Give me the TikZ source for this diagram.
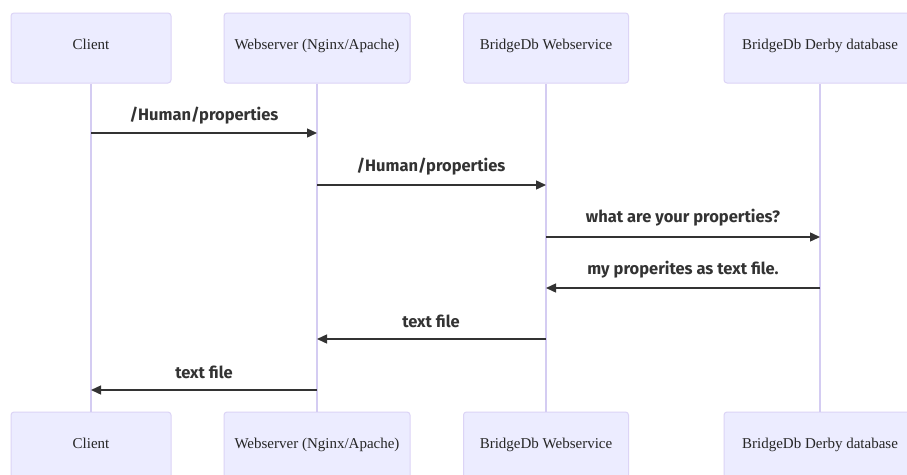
\documentclass[tikz,border=0pt]{standalone}
\usepackage{fontspec}
\setmainfont{Liberation Serif}
\newfontfamily\lblfont{Fira Sans}
\usetikzlibrary{arrows.meta}
\definecolor{boxfill}{HTML}{ECECFF}
\definecolor{boxline}{HTML}{DCD4F6}
\definecolor{lifeline}{HTML}{D4CCF2}
\definecolor{msgcol}{HTML}{333333}
\tikzset{
  actor/.style={draw=boxline, line width=1pt, fill=boxfill, rounded corners=3pt,
    minimum height=70pt, inner sep=0pt, font=\fontsize{15}{17}\selectfont, text=black!85},
  life/.style={draw=lifeline, line width=1.2pt},
  msg/.style={draw=msgcol, line width=1.4pt, -{Triangle[length=10pt,width=9pt]}},
  lbl/.style={font=\lblfont\bfseries\fontsize{16.5}{18}\selectfont, text=msgcol, inner sep=0pt}
}
\begin{document}
\begin{tikzpicture}[x=1pt,y=-1pt]
\useasboundingbox (0,0) rectangle (907,474);
\clip (0,0) rectangle (907,474);
\fill[white] (0,0) rectangle (907,474);
% top actors
\node[actor, minimum width=160pt] (c1) at (91,48) {\raisebox{7pt}{Client}};
\node[actor, minimum width=186pt] (w1) at (317,48) {\raisebox{7pt}{Webserver (Nginx/Apache)}};
\node[actor, minimum width=165pt] (b1) at (546,48) {\raisebox{7pt}{BridgeDb Webservice}};
\node[actor, minimum width=192pt] (d1) at (820,48) {\raisebox{7pt}{BridgeDb Derby database}};
% bottom actors
\node[actor, minimum width=160pt] (c2) at (91,447) {\raisebox{7pt}{Client}};
\node[actor, minimum width=186pt] (w2) at (317,447) {\raisebox{7pt}{Webserver (Nginx/Apache)}};
\node[actor, minimum width=165pt] (b2) at (546,447) {\raisebox{7pt}{BridgeDb Webservice}};
\node[actor, minimum width=192pt] (d2) at (820,447) {\raisebox{7pt}{BridgeDb Derby database}};
% lifelines
\draw[life] (c1.south) -- (c2.north);
\draw[life] (w1.south) -- (w2.north);
\draw[life] (b1.south) -- (b2.north);
\draw[life] (d1.south) -- (d2.north);
% messages
\draw[msg] (c1.south |- 0,133) -- (w1.south |- 0,133);
\node[lbl] (m1) at (204,116) {/Human/properties};
\draw[msg] (w1.south |- 0,185) -- (b1.south |- 0,185);
\node[lbl] (m2) at (431,167) {/Human/properties};
\draw[msg] (b1.south |- 0,237) -- (d1.south |- 0,237);
\node[lbl] (m3) at (683,218) {what are your properties?};
\draw[msg] (d1.south |- 0,288) -- (b1.south |- 0,288);
\node[lbl] (m4) at (683,270) {my properites as text file.};
\draw[msg] (b1.south |- 0,339) -- (w1.south |- 0,339);
\node[lbl] (m5) at (431,321) {text file};
\draw[msg] (w1.south |- 0,390) -- (c1.south |- 0,390);
\node[lbl] (m6) at (204,372) {text file};
\end{tikzpicture}
\end{document}
